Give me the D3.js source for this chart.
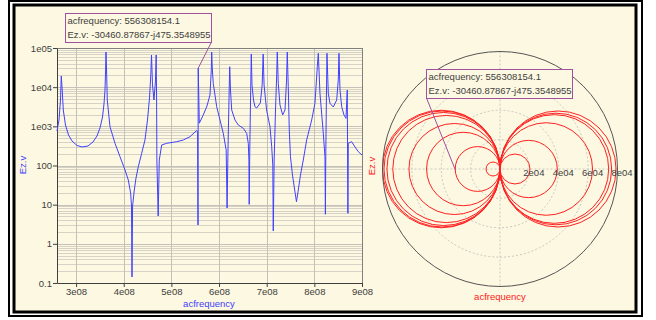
<!DOCTYPE html>
<html>
<head>
<meta charset="utf-8">
<script src="https://cdn.jsdelivr.net/npm/d3@7"></script>
<style>
  body { margin: 0; background: #fff; }
  svg { display: block; font-family: "Liberation Sans", Arial, sans-serif; }
</style>
</head>
<body>
<div id="chart"></div>
<script>
// Left chart: |Ez.v| against acfrequency (MHz)
const freqMHz = [260.0, 264.2, 267.3, 269.0, 270.9, 273.2, 277.8, 284.1, 291.5, 302.0,
  312.5, 325.0, 335.5, 343.9, 350.2, 355.5, 358.6, 360.7, 362.0, 362.8,
  364.1, 365.5, 371.2, 381.7, 392.2, 402.7, 409.6, 414.6, 416.3, 417.4,
  418.6, 422.2, 425.8, 430.6, 437.7, 444.6, 449.9, 454.1, 456.8, 458.3,
  460.4, 463.5, 466.5, 468.1, 469.0, 469.6, 472.3, 474.6, 479.7, 490.2,
  511.2, 525.0, 539.1, 553.1, 555.0, 555.9, 556.308154, 558.6, 566.9, 574.7,
  581.0, 583.8, 584.6, 585.8, 587.9, 595.1, 602.0, 608.9, 615.0, 616.9,
  618.8, 621.3, 622.4, 624.0, 626.6, 633.5, 640.4, 650.9, 658.0, 661.4,
  662.7, 663.3, 664.5, 666.4, 667.7, 669.2, 672.3, 675.4, 679.0, 686.7,
  690.5, 692.6, 694.5, 699.8, 706.9, 710.5, 712.8, 713.8, 715.7, 718.5,
  721.0, 722.2, 724.3, 727.9, 733.6, 738.4, 741.7, 743.2, 745.3, 747.4,
  749.9, 754.1, 759.4, 762.5, 765.7, 770.9, 776.8, 783.9, 794.4, 801.3,
  806.2, 808.3, 811.8, 818.8, 822.3, 823.2, 824.0, 825.5, 826.5, 829.3,
  832.8, 839.7, 846.9, 850.2, 851.7, 853.8, 857.4, 862.2, 866.4, 869.1,
  870.4, 871.2, 878.3, 885.3, 892.2, 900.0];
const magnitude = [760, 1450, 4700, 19300, 8470, 2610, 1080, 600, 423, 324,
  297, 315, 398, 566, 907, 1730, 3720, 8470, 27400, 79000,
  24400, 4700, 979, 369, 168, 76.7, 42.7, 19.5, 9.25, 0.143,
  9.25, 23.7, 48, 93.3, 205, 448, 1450, 5290, 20500, 66300,
  11400, 4700, 13600, 66300, 4700, 138, 5.14, 138, 334, 369,
  405, 448, 544, 783, 716, 3.03, 30464, 1200, 1950, 3300,
  6310, 27400, 79000, 30900, 12600, 3170, 1450, 664, 249, 8.22,
  249, 8470, 33300, 8470, 2610, 1450, 1080, 891, 664, 369,
  138, 10.2, 249, 8470, 70300, 11400, 4700, 3170, 2940, 3950,
  11400, 70300, 11400, 2610, 979, 302, 103, 2.13, 138, 2610,
  20500, 79000, 12600, 3510, 1950, 2610, 15200, 79000, 10300, 807,
  168, 57.3, 21.1, 11.9, 21.1, 57.3, 138, 448, 1450, 3870,
  33300, 73200, 6970, 664, 168, 5.68, 168, 8470, 73200, 6970,
  3870, 3120, 4700, 15200, 73200, 8470, 3170, 1950, 1600, 8470,
  6.03, 369, 405, 297, 225, 185];

const xTicks = [3e8, 4e8, 5e8, 6e8, 7e8, 8e8, 9e8];
const xTickLabels = ['3e08', '4e08', '5e08', '6e08', '7e08', '8e08', '9e08'];
const yTicks = [1e5, 1e4, 1e3, 100, 10, 1, 0.1];
const yTickLabels = ['1e05', '1e04', '1e03', '100', '10', '1', '0.1'];

// Right chart: resonance loops in the complex plane (diameter along the real axis)
const loopDiameters = [-9.5e3, -3.05e4, -5.0e4, -6.2e4, -7.3e4, -7.7e4, -7.9e4, -8.0e4,
  2.04e4, 3.9e4, 6.3e4, 7.4e4, 7.6e4, 7.9e4];
const rTicks = [2e4, 4e4, 6e4, 8e4];
const rTickLabels = ['2e04', '4e04', '6e04', '8e04'];

// Tooltip point
const tipFreq = 556308154.1;
const tipRe = -30460.87867;
const tipIm = -475.3548955;
const tipLines = ['acfrequency: 556308154.1', 'Ez.v: -30460.87867-j475.3548955'];

const CREAM = '#fdf8e1';
const BLUE = '#4040ff';
const RED = '#ff2020';
const TEXT = '#404040';
const TIP = '#a050a0';
const FONT = 9.5;

const svg = d3.select('#chart').append('svg')
  .attr('width', 656).attr('height', 320);

// double black frame
svg.append('rect').attr('x', 9).attr('y', 1).attr('width', 633).attr('height', 315)
  .attr('fill', 'none').attr('stroke', '#000').attr('stroke-width', 2);
svg.append('rect').attr('x', 14).attr('y', 5).attr('width', 622).attr('height', 307)
  .attr('fill', CREAM).attr('stroke', '#000').attr('stroke-width', 3);

// ---------- left: magnitude plot ----------
const x = d3.scaleLinear().domain([2.6e8, 9e8]).range([57, 362]);
const y = d3.scaleLog().domain([0.1, 1e5]).range([283, 48]);

const grid = svg.append('g').attr('shape-rendering', 'crispEdges');
for (let e = -1; e < 5; e++) {
  for (let k = 2; k <= 9; k++) {
    const v = k * Math.pow(10, e);
    grid.append('line').attr('x1', 57).attr('x2', 362)
      .attr('y1', Math.round(y(v)) + 0.5).attr('y2', Math.round(y(v)) + 0.5)
      .attr('stroke', '#d6d3c6');
  }
}
yTicks.forEach((v) => {
  grid.append('line').attr('x1', 57).attr('x2', 362)
    .attr('y1', Math.round(y(v)) + 0.5).attr('y2', Math.round(y(v)) + 0.5)
    .attr('stroke', '#c4c2b8');
});
xTicks.forEach((v) => {
  grid.append('line').attr('y1', 48).attr('y2', 283)
    .attr('x1', Math.round(x(v)) + 0.5).attr('x2', Math.round(x(v)) + 0.5)
    .attr('stroke', '#c4c2b8');
});
// frame of plot area
grid.append('line').attr('x1', 57).attr('x2', 362.5).attr('y1', 48.5).attr('y2', 48.5).attr('stroke', '#808080');
grid.append('line').attr('x1', 362.5).attr('x2', 362.5).attr('y1', 48).attr('y2', 283).attr('stroke', '#808080');

const xAxis = d3.axisBottom(x).tickValues(xTicks)
  .tickFormat((d, i) => xTickLabels[i]).tickSize(4).tickSizeOuter(0).tickPadding(1);
const gx = svg.append('g').attr('transform', 'translate(0,283)').call(xAxis);
const yAxis = d3.axisLeft(y).tickValues(yTicks)
  .tickFormat((d, i) => yTickLabels[i]).tickSize(4).tickSizeOuter(0).tickPadding(1);
const gy = svg.append('g').attr('transform', 'translate(57,0)').call(yAxis);
[gx, gy].forEach((g) => {
  g.selectAll('path, line').attr('stroke', '#404040');
  g.selectAll('text').attr('fill', TEXT).style('font-size', FONT + 'px').style('font-family', 'Liberation Sans, Arial, sans-serif');
});

svg.append('text').attr('x', 209).attr('y', 307).attr('text-anchor', 'middle')
  .attr('fill', BLUE).style('font-size', FONT + 'px').text('acfrequency');
svg.append('text').attr('transform', 'translate(26,165) rotate(-90)').attr('text-anchor', 'middle')
  .attr('fill', BLUE).style('font-size', FONT + 'px').text('Ez.v');

const series = freqMHz.map((f, i) => ({ f: f * 1e6, m: magnitude[i] }));
svg.append('path').datum(series)
  .attr('fill', 'none').attr('stroke', BLUE).attr('stroke-width', 1)
  .attr('d', d3.line().x((d) => x(d.f)).y((d) => y(d.m)));

const tipMag = Math.hypot(tipRe, tipIm);
const drawTip = (bx, by, px, py, cornerX) => {
  svg.append('line').attr('x1', cornerX).attr('y1', by + 29).attr('x2', px).attr('y2', py)
    .attr('stroke', TIP).attr('stroke-width', 1);
  svg.append('rect').attr('x', bx + 0.5).attr('y', by + 0.5).attr('width', 146).attr('height', 29)
    .attr('fill', CREAM).attr('stroke', TIP).attr('stroke-width', 1);
  tipLines.forEach((t, i) => {
    svg.append('text').attr('x', bx + 2.5).attr('y', by + 11 + i * 13.5)
      .attr('fill', TEXT).style('font-size', FONT + 'px').text(t);
  });
};
drawTip(65, 13, x(tipFreq), y(tipMag), 211.5);

// ---------- right: complex plane ----------
const cx = 500, cy = 169;
const r = d3.scaleLinear().domain([0, 8e4]).range([0, 117.5]);
const px = (re) => cx + (re < 0 ? -r(-re) : r(re));
const py = (im) => cy - (im < 0 ? -r(-im) : r(im));

const polar = svg.append('g');
rTicks.slice(0, -1).forEach((v) => {
  polar.append('circle').attr('cx', cx).attr('cy', cy).attr('r', r(v))
    .attr('fill', 'none').attr('stroke', '#c8c8c0').attr('stroke-dasharray', '2,2');
});
polar.append('line').attr('x1', cx - r(8e4)).attr('x2', cx + r(8e4)).attr('y1', cy).attr('y2', cy)
  .attr('stroke', '#c8c8c0').attr('stroke-dasharray', '2,2');
polar.append('line').attr('y1', cy - r(8e4)).attr('y2', cy + r(8e4)).attr('x1', cx).attr('x2', cx)
  .attr('stroke', '#c8c8c0').attr('stroke-dasharray', '2,2');

polar.selectAll('.loop').data(loopDiameters).enter().append('circle')
  .attr('class', 'loop')
  .attr('cx', (d) => px(d / 2)).attr('cy', py(0))
  .attr('r', (d) => r(Math.abs(d) / 2))
  .attr('fill', 'none').attr('stroke', RED).attr('stroke-width', 1);

polar.append('circle').attr('cx', cx).attr('cy', cy).attr('r', r(8e4))
  .attr('fill', 'none').attr('stroke', '#555').attr('stroke-width', 1);

rTicks.forEach((v, i) => {
  polar.append('text').attr('x', cx + r(v) + 4.5).attr('y', cy + 7)
    .attr('text-anchor', 'middle').attr('fill', TEXT).style('font-size', FONT + 'px')
    .text(rTickLabels[i]);
});

svg.append('text').attr('x', cx).attr('y', 300).attr('text-anchor', 'middle')
  .attr('fill', RED).style('font-size', FONT + 'px').text('acfrequency');
svg.append('text').attr('transform', 'translate(375,166) rotate(-90)').attr('text-anchor', 'middle')
  .attr('fill', RED).style('font-size', FONT + 'px').text('Ez.v');

drawTip(426, 69, px(tipRe), py(tipIm), 426.5);
</script>
</body>
</html>
